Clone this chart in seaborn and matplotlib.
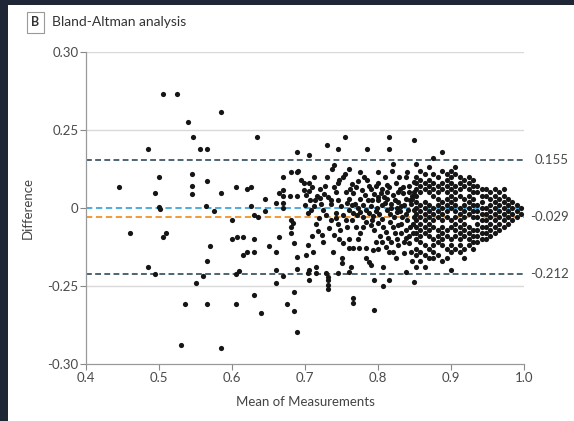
import matplotlib
matplotlib.use("Agg")
import matplotlib.pyplot as plt
from matplotlib.patches import Rectangle
import seaborn as sns
import pandas as pd

# ---------------- data ----------------
sparse_points = [
    (0.445, 0.067), (0.460, -0.080), (0.485, 0.189), (0.485, -0.189), (0.495, -0.212),
    (0.500, 0.099), (0.495, 0.048), (0.500, 0.003), (0.501, -0.003), (0.505, -0.093),
    (0.510, -0.080), (0.505, 0.365), (0.525, 0.365), (0.540, 0.276), (0.547, 0.228),
    (0.545, 0.109), (0.545, 0.071), (0.545, 0.045), (0.556, 0.189), (0.566, 0.189),
    (0.566, 0.087), (0.564, 0.006), (0.575, -0.010), (0.570, -0.122), (0.566, -0.170),
    (0.560, -0.218), (0.551, -0.240), (0.536, -0.308), (0.566, -0.308), (0.530, -0.439),
    (0.585, -0.449), (0.585, 0.048), (0.600, -0.038), (0.600, -0.099), (0.607, -0.093),
    (0.615, -0.093), (0.605, 0.067), (0.605, -0.212), (0.610, -0.202), (0.605, -0.308),
    (0.615, -0.151), (0.621, -0.141), (0.621, 0.061), (0.626, 0.067), (0.626, 0.006),
    (0.630, -0.022), (0.636, -0.029), (0.630, -0.099), (0.630, -0.141), (0.630, -0.279),
    (0.634, 0.228), (0.640, -0.337), (0.645, 0.029), (0.645, -0.010), (0.651, -0.122),
    (0.660, -0.141), (0.660, -0.199), (0.660, -0.240), (0.660, 0.016), (0.664, -0.093),
    (0.664, 0.048), (0.670, 0.038), (0.670, 0.058), (0.670, 0.099), (0.670, 0.016),
    (0.670, 0.000), (0.670, -0.218), (0.675, -0.308), (0.681, 0.115), (0.679, 0.038),
    (0.681, -0.038), (0.684, -0.048), (0.681, -0.061), (0.681, -0.080), (0.685, -0.112),
    (0.685, -0.269), (0.685, -0.330), (0.689, -0.397), (0.689, 0.179), (0.689, 0.115),
    (0.689, 0.038), (0.689, -0.157), (0.689, -0.196), (0.585, 0.308),
]

mid_points = [
    (0.690, 0.119), (0.695, 0.090), (0.699, 0.080), (0.699, 0.058), (0.705, 0.170),
    (0.730, 0.202), (0.745, 0.189), (0.755, 0.228), (0.785, 0.189), (0.815, 0.228),
    (0.815, 0.189), (0.849, 0.218), (0.821, 0.141), (0.740, 0.138), (0.737, 0.125),
    (0.800, 0.115), (0.819, 0.119), (0.840, 0.115), (0.755, 0.109), (0.752, 0.099),
    (0.747, 0.090), (0.745, 0.080), (0.740, 0.067), (0.730, 0.099), (0.781, 0.099),
    (0.785, 0.090), (0.800, 0.080), (0.810, 0.099), (0.829, 0.099), (0.838, 0.099),
    (0.705, 0.080), (0.710, 0.067), (0.705, 0.054), (0.701, 0.042), (0.764, 0.077),
    (0.770, 0.067), (0.756, 0.051), (0.766, 0.048), (0.778, 0.058), (0.721, 0.032),
    (0.714, 0.026), (0.732, 0.035), (0.736, 0.026), (0.745, 0.026), (0.782, 0.042),
    (0.786, 0.026), (0.795, 0.045), (0.800, 0.035), (0.804, 0.048), (0.808, 0.035),
    (0.800, 0.026), (0.815, 0.067), (0.821, 0.042), (0.823, 0.026), (0.834, 0.067),
    (0.834, 0.048), (0.842, 0.051), (0.849, 0.083),
    (0.700, 0.010), (0.712, 0.005), (0.725, -0.008), (0.735, 0.012), (0.742, -0.015),
    (0.750, 0.008), (0.760, -0.005), (0.768, 0.012), (0.775, -0.012), (0.790, 0.008),
    (0.797, -0.010), (0.805, 0.010), (0.812, -0.006), (0.818, 0.014), (0.826, -0.012),
    (0.832, 0.005), (0.838, -0.020), (0.845, 0.012), (0.850, -0.008), (0.847, 0.030),
    (0.828, 0.020), (0.810, 0.016), (0.793, -0.026), (0.787, -0.016), (0.771, -0.024),
    (0.757, 0.016), (0.722, 0.012), (0.708, -0.006),
    (0.704, -0.016), (0.719, -0.032), (0.729, -0.022), (0.742, -0.032), (0.752, -0.022),
    (0.766, -0.016), (0.718, -0.074), (0.723, -0.087), (0.733, -0.064), (0.740, -0.087),
    (0.747, -0.099), (0.752, -0.112), (0.760, -0.099), (0.779, -0.029), (0.784, -0.045),
    (0.790, -0.054), (0.795, -0.071), (0.800, -0.048), (0.807, -0.061), (0.811, -0.077),
    (0.814, -0.096), (0.818, -0.109), (0.811, -0.125), (0.815, -0.141), (0.827, -0.054),
    (0.832, -0.080), (0.838, -0.096), (0.842, -0.112), (0.845, -0.141), (0.836, -0.144),
    (0.704, -0.119), (0.711, -0.141), (0.701, -0.151), (0.760, -0.128), (0.766, -0.128),
    (0.774, -0.128), (0.784, -0.128), (0.793, -0.135), (0.751, -0.160), (0.751, -0.176),
    (0.763, -0.189), (0.784, -0.160), (0.788, -0.173), (0.790, -0.183), (0.807, -0.189),
    (0.715, -0.189), (0.705, -0.199), (0.704, -0.208), (0.715, -0.208), (0.729, -0.208),
    (0.745, -0.208), (0.760, -0.205), (0.705, -0.231), (0.732, -0.221), (0.732, -0.231),
    (0.732, -0.247), (0.732, -0.260), (0.795, -0.231), (0.807, -0.250), (0.815, -0.231),
    (0.838, -0.205), (0.849, -0.237), (0.766, -0.288), (0.766, -0.304), (0.795, -0.327),
    (0.825, 0.080), (0.830, 0.060), (0.843, 0.070), (0.846, 0.040), (0.838, 0.030),
    (0.826, 0.000), (0.840, -0.040), (0.844, -0.060), (0.833, -0.030), (0.822, -0.030),
    (0.817, -0.045), (0.848, -0.080), (0.835, -0.110), (0.828, -0.120), (0.846, -0.170),
    (0.825, -0.160), (0.818, 0.000), (0.803, -0.090), (0.797, -0.110), (0.776, -0.080),
    (0.770, -0.060), (0.765, -0.040), (0.760, 0.030), (0.775, 0.030), (0.790, 0.060),
    (0.797, 0.070), (0.812, 0.050), (0.828, 0.050), (0.776, 0.115), (0.760, 0.125),
    (0.712, 0.100), (0.720, 0.060), (0.726, 0.045), (0.757, -0.060), (0.745, -0.050),
    (0.735, -0.040), (0.715, -0.050), (0.709, -0.090), (0.725, -0.110), (0.738, -0.140),
    (0.780, 0.010), (0.783, -0.005), (0.792, -0.040), (0.798, 0.000), (0.802, -0.020),
    (0.806, -0.035), (0.813, 0.030), (0.816, -0.020), (0.820, -0.060), (0.823, -0.080),
    (0.830, -0.010), (0.836, 0.010), (0.841, -0.005), (0.844, 0.025), (0.849, 0.050),
    (0.850, -0.030), (0.848, -0.050), (0.843, -0.090), (0.839, -0.070), (0.831, -0.050),
    (0.826, -0.100), (0.820, -0.140), (0.806, -0.110), (0.800, -0.130), (0.812, 0.075),
    (0.806, 0.060), (0.792, 0.025), (0.772, 0.000), (0.764, 0.010), (0.756, -0.040),
    (0.748, -0.070), (0.772, -0.100), (0.780, -0.060), (0.787, 0.070), (0.773, 0.085),
    (0.762, 0.060), (0.742, 0.050), (0.728, 0.070), (0.716, 0.040), (0.707, 0.025),
]

dense_means = [0.852, 0.858, 0.864, 0.870, 0.876, 0.882, 0.888, 0.894, 0.900, 0.906,
               0.912, 0.918, 0.924, 0.930, 0.936, 0.942, 0.948, 0.954, 0.960, 0.966,
               0.972, 0.978, 0.984, 0.990, 0.996]
dense_diffs = [
    [0.14, 0.10, 0.08, 0.06, 0.04, 0.02, 0.00, -0.02, -0.04, -0.06, -0.08, -0.10, -0.13, -0.15, -0.19],
    [0.12, 0.09, 0.07, 0.05, 0.01, -0.01, -0.03, -0.05, -0.07, -0.09, -0.11, -0.14, -0.17],
    [0.11, 0.08, 0.06, 0.02, 0.00, -0.02, -0.04, -0.06, -0.08, -0.12, -0.15, -0.19],
    [0.13, 0.09, 0.07, 0.05, 0.01, -0.01, -0.03, -0.05, -0.07, -0.09, -0.13, -0.16],
    [0.16, 0.11, 0.08, 0.06, 0.04, 0.00, -0.02, -0.04, -0.06, -0.10, -0.12, -0.14, -0.16],
    [0.10, 0.07, 0.05, 0.03, 0.01, -0.01, -0.03, -0.07, -0.09, -0.11, -0.15],
    [0.18, 0.12, 0.08, 0.06, 0.02, 0.00, -0.02, -0.04, -0.06, -0.08, -0.10, -0.12, -0.17],
    [0.11, 0.09, 0.07, 0.05, 0.03, 0.01, -0.01, -0.03, -0.07, -0.09, -0.13, -0.16],
    [0.12, 0.10, 0.08, 0.06, 0.04, 0.02, 0.00, -0.04, -0.06, -0.10, -0.12, -0.14, -0.20],
    [0.13, 0.11, 0.07, 0.05, 0.03, 0.01, -0.01, -0.03, -0.05, -0.07, -0.09, -0.13],
    [0.10, 0.08, 0.06, 0.04, 0.00, -0.02, -0.04, -0.06, -0.08, -0.10, -0.12, -0.14],
    [0.09, 0.07, 0.03, 0.01, -0.01, -0.03, -0.05, -0.07, -0.09, -0.13, -0.16],
    [0.10, 0.08, 0.06, 0.04, 0.02, 0.00, -0.02, -0.06, -0.08, -0.10, -0.12],
    [0.09, 0.07, 0.05, 0.03, 0.01, -0.01, -0.03, -0.07, -0.09, -0.11, -0.13],
    [0.07, 0.05, 0.01, -0.01, -0.03, -0.05, -0.07, -0.09, -0.11],
    [0.06, 0.04, 0.02, 0.00, -0.02, -0.04, -0.06, -0.08, -0.10],
    [0.06, 0.04, 0.00, -0.02, -0.04, -0.06, -0.08, -0.10],
    [0.05, 0.03, 0.01, -0.01, -0.03, -0.05, -0.07, -0.09],
    [0.06, 0.04, 0.02, 0.00, -0.02, -0.04, -0.06, -0.08],
    [0.05, 0.03, 0.01, -0.01, -0.03, -0.05, -0.07],
    [0.06, 0.04, 0.02, 0.00, -0.02, -0.04, -0.06],
    [0.03, 0.01, -0.01, -0.03, -0.05],
    [0.02, 0.00, -0.02, -0.04],
    [0.01, -0.01, -0.03],
    [0.00, -0.02],
]

upper_loa = 0.155
mean_diff = -0.029
lower_loa = -0.212
zero_line = 0.0

x_ticks = [0.4, 0.5, 0.6, 0.7, 0.8, 0.9, 1.0]
x_tick_labels = ["0.4", "0.5", "0.6", "0.7", "0.8", "0.9", "1.0"]
y_ticks = [-0.5, -0.25, 0.0, 0.25, 0.5]
y_tick_labels = ["-0.30", "-0.25", "0", "0.25", "0.30"]

# ---------------- build long table ----------------
rows = [{"mean": m, "diff": d} for m, d in sparse_points + mid_points]
for m, ds in zip(dense_means, dense_diffs):
    for d in ds:
        rows.append({"mean": m, "diff": d})
df = pd.DataFrame(rows)

# ---------------- figure ----------------
sns.set_style("white")
plt.rcParams["font.family"] = ["Lato", "DejaVu Sans"]

W, H = 574, 421
fig = plt.figure(figsize=(W / 100, H / 100), dpi=100, facecolor="#1f2736")
bg = Rectangle((8 / W, 0), 1, 1 - 5 / H, transform=fig.transFigure,
               facecolor="white", edgecolor="none", zorder=-10)
fig.patches.append(bg)

ax = fig.add_axes([86 / W, 1 - 364 / H, 438 / W, 312 / H])
ax.set_zorder(5)
ax.set_facecolor("white")
ax.set_xlim(0.4, 1.0)
ax.set_ylim(-0.5, 0.5)

# light grid lines
for yv in [0.5, 0.25, -0.25]:
    ax.axhline(yv, color="#d9d9d9", lw=1.0, zorder=1)

# reference lines
ax.axhline(upper_loa, color="#2f4b5c", lw=1.2, ls=(0, (3.5, 2)), zorder=2)
ax.axhline(lower_loa, color="#2f4b5c", lw=1.2, ls=(0, (3.5, 2)), zorder=2)
ax.axhline(zero_line, color="#3fa6dd", lw=1.3, ls=(0, (3.5, 2)), zorder=2)
ax.axhline(mean_diff, color="#f0932a", lw=1.3, ls=(0, (3.5, 2)), zorder=2)

sns.scatterplot(data=df, x="mean", y="diff", ax=ax, color="#151515",
                s=14, linewidth=0, zorder=3)

ax.set_xticks(x_ticks)
ax.set_xticklabels(x_tick_labels)
ax.set_yticks(y_ticks)
ax.set_yticklabels(y_tick_labels)
ax.tick_params(axis="both", which="major", length=4, width=0.8, color="#888888",
               labelsize=9.5, labelcolor="#4a4a4a", direction="out", pad=1.5,
               left=True, bottom=True)

for side in ["top", "right"]:
    ax.spines[side].set_visible(False)
for side in ["left", "bottom"]:
    ax.spines[side].set_color("#999999")
    ax.spines[side].set_linewidth(0.9)

ax.set_xlabel("Mean of Measurements", fontsize=9.5, color="#444444", labelpad=9)
ax.set_ylabel("Difference", fontsize=9.5, color="#444444", labelpad=10)

# right-hand labels
for val, txt in [(upper_loa, "0.155"), (mean_diff, "-0.029"), (lower_loa, "-0.212")]:
    ax.text((569 - 86) / 438, val, txt, transform=ax.get_yaxis_transform(),
            ha="right", va="center", fontsize=9.5, color="#4a4a4a", clip_on=False)

# panel title
fig.text(35.5 / W, 1 - 22.5 / H, "B", ha="center", va="center", fontsize=9,
         fontweight="bold", color="#333333",
         bbox=dict(boxstyle="square,pad=0.35", facecolor="white",
                   edgecolor="#999999", linewidth=0.8))
fig.text(52 / W, 1 - 22.5 / H, "Bland-Altman analysis", ha="left", va="center",
         fontsize=10, color="#333333")

fig.savefig("out.png", dpi=100, facecolor=fig.get_facecolor())
